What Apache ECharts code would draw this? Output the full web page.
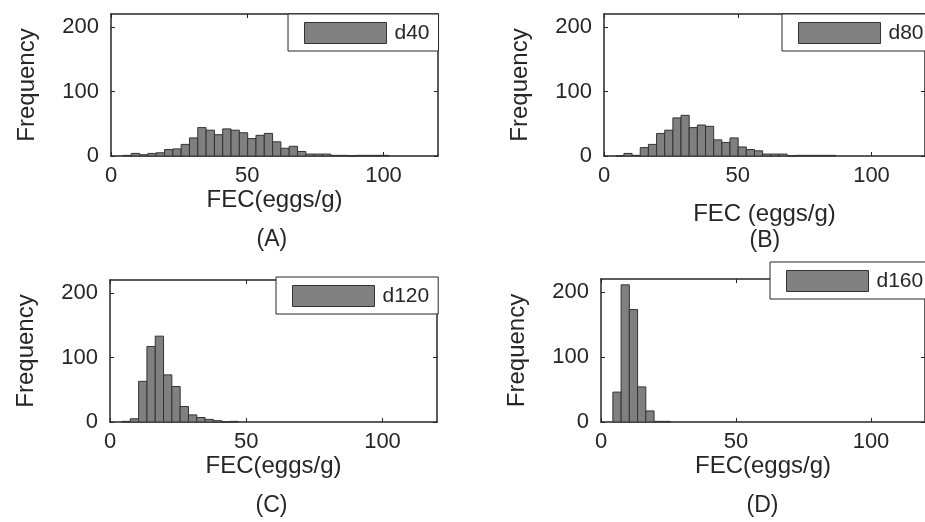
<!DOCTYPE html>
<html lang="en">
<head>
    <meta charset="UTF-8">
    <title>FEC histograms</title>
    <script src="https://cdn.jsdelivr.net/npm/echarts@6/dist/echarts.min.js"></script>
    <style>
        body { margin: 0; background: #fff; }
        #chart { width: 925px; height: 522px; }
    </style>
</head>
<body>
    <div id="chart"></div>
    <script>
        // histogram bins (eggs/g), shared by all panels
        const binStart = 4.4;
        const binWidth = 3.05;

        const names = ['d40', 'd80', 'd120', 'd160'];
        const panelTags = ['(A)', '(B)', '(C)', '(D)'];
        const xNames = ['FEC(eggs/g)', 'FEC (eggs/g)', 'FEC(eggs/g)', 'FEC(eggs/g)'];

        const countsD40 = [1, 4, 2, 4, 5, 10, 11, 18, 28, 44, 40, 33, 42, 40, 36, 27, 32, 35, 22, 12, 15, 7, 3, 3, 3, 1, 1, 0, 1, 1, 1, 1];
        const countsD80 = [0, 4, 1, 13, 18, 35, 40, 59, 63, 44, 48, 46, 25, 21, 28, 14, 10, 8, 3, 3, 3, 0, 1, 1, 1, 1, 1];
        const countsD120 = [1, 5, 63, 117, 133, 73, 55, 24, 11, 7, 4, 2, 0, 1];
        const countsD160 = [46, 211, 173, 54, 17, 1, 1];
        const allCounts = [countsD40, countsD80, countsD120, countsD160];

        const xTicks = [0, 50, 100];
        const yTicks = [0, 100, 200];
        const xMax = 120;
        const yMax = 220;

        // plot boxes
        const boxes = [
            { left: 111, top: 14, width: 327, height: 142 },
            { left: 604, top: 14, width: 327, height: 142 },
            { left: 110, top: 280, width: 327, height: 142 },
            { left: 601, top: 279, width: 327, height: 143 }
        ];
        const legendPos = [
            { left: 288, top: 14 },
            { left: 782, top: 14 },
            { left: 276, top: 277 },
            { left: 770, top: 262 }
        ];
        const xNameGap = [28, 46, 26, 26];
        const tagY = [228, 229, 494, 494];

        const ink = '#262626';
        const font = 'Liberation Sans, Arial, sans-serif';

        function binsOf(counts) {
            return counts.map((c, i) => [binStart + i * binWidth, binStart + (i + 1) * binWidth, c]);
        }

        function renderBar(params, api) {
            const p0 = api.coord([api.value(0), 0]);
            const p1 = api.coord([api.value(1), api.value(2)]);
            return {
                type: 'rect',
                shape: { x: p0[0], y: p1[1], width: p1[0] - p0[0], height: p0[1] - p1[1] },
                style: { fill: '#808080', stroke: '#333333', lineWidth: 1 }
            };
        }

        const grid = [], xAxis = [], yAxis = [], series = [], legend = [], graphic = [];

        boxes.forEach((b, i) => {
            grid.push({ left: b.left, top: b.top, width: b.width, height: b.height, containLabel: false });

            const axisLine = { show: true, onZero: false, lineStyle: { color: ink, width: 1.5 } };
            const tick = { show: true, inside: true, length: 4, lineStyle: { color: ink, width: 1 } };
            const label = { color: ink, fontSize: 22, fontFamily: font };

            xAxis.push({
                type: 'value', gridIndex: i, position: 'bottom', min: 0, max: xMax, interval: 50,
                axisLine: axisLine, axisTick: tick, splitLine: { show: false },
                axisLabel: Object.assign({ margin: 9, showMaxLabel: false, formatter: v => xTicks.includes(v) ? v : '' }, label),
                name: xNames[i], nameLocation: 'middle', nameGap: xNameGap[i],
                nameTextStyle: { color: ink, fontSize: 24, fontFamily: font }
            });
            xAxis.push({
                type: 'value', gridIndex: i, position: 'top', min: 0, max: xMax, interval: 50,
                axisLine: axisLine, axisTick: tick, splitLine: { show: false }, axisLabel: { show: false }
            });
            yAxis.push({
                type: 'value', gridIndex: i, position: 'left', min: 0, max: yMax, interval: 100,
                axisLine: axisLine, axisTick: tick, splitLine: { show: false },
                axisLabel: Object.assign({ margin: 12, showMaxLabel: false, formatter: v => yTicks.includes(v) ? v : '' }, label),
                name: 'Frequency', nameLocation: 'middle', nameGap: 72,
                nameTextStyle: { color: ink, fontSize: 24, fontFamily: font }
            });
            yAxis.push({
                type: 'value', gridIndex: i, position: 'right', min: 0, max: yMax, interval: 100,
                axisLine: axisLine, axisTick: tick, splitLine: { show: false }, axisLabel: { show: false }
            });

            series.push({
                name: names[i],
                type: 'custom',
                xAxisIndex: i * 2,
                yAxisIndex: i * 2,
                renderItem: renderBar,
                encode: { x: [0, 1], y: 2 },
                itemStyle: { color: '#808080', borderColor: '#333333', borderWidth: 1 },
                data: binsOf(allCounts[i])
            });

            legend.push({
                data: [names[i]],
                left: legendPos[i].left,
                top: legendPos[i].top,
                orient: 'horizontal',
                padding: [8, 9, 7, 16],
                itemGap: 0,
                itemWidth: 82,
                itemHeight: 21,
                icon: 'rect',
                selectedMode: false,
                borderColor: ink,
                borderWidth: 1,
                borderRadius: 0,
                backgroundColor: '#fff',
                itemStyle: { color: '#808080', borderColor: '#333333', borderWidth: 1 },
                textStyle: { color: ink, fontSize: 21, fontFamily: font, padding: [0, 0, 0, 3] }
            });

            graphic.push({
                type: 'text',
                left: b.left + b.width / 2 - 18,
                top: tagY[i],
                style: { text: panelTags[i], fill: ink, font: '23px ' + font }
            });
        });

        const chart = echarts.init(document.getElementById('chart'), null, { renderer: 'canvas' });
        chart.setOption({
            animation: false,
            backgroundColor: '#fff',
            grid: grid,
            xAxis: xAxis,
            yAxis: yAxis,
            series: series,
            legend: legend,
            graphic: graphic
        });
    </script>
</body>
</html>
